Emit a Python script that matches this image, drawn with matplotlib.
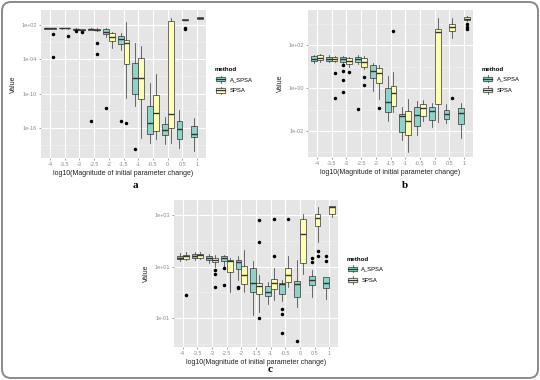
import numpy as np
import matplotlib
matplotlib.use("Agg")
import matplotlib.pyplot as plt
from matplotlib.patches import Rectangle, FancyBboxPatch, Patch
from matplotlib.lines import Line2D
from matplotlib.legend_handler import HandlerBase
from matplotlib.ticker import FixedLocator, NullFormatter
from matplotlib.transforms import IdentityTransform

plt.rcParams['font.family'] = ['Liberation Sans', 'DejaVu Sans']

# categories on the x axis
categories = ['-4', '-3.5', '-3', '-2.5', '-2', '-1.5', '-1', '-0.5', '0', '0.5', '1']
methods = ['A_SPSA', 'SPSA']

# box stats as log10 exponents: [whisker low, q1, median, q3, whisker high]
a_aspsa = [[1.30, 1.38, 1.45, 1.50, 1.55], [1.32, 1.40, 1.45, 1.50, 1.56], [1.10, 1.18, 1.25, 1.32, 1.40],
           [1.10, 1.18, 1.25, 1.32, 1.40], [-0.03, 0.38, 0.84, 1.30, 1.55], [-2.35, -1.36, -0.50, 0.09, 0.55],
           [-12.1, -10.06, -7.28, -4.66, -1.2], [-18.6, -17.1, -15.1, -12.2, -8.1], [-18.8, -17.3, -16.4, -15.3, -14.1],
           [-19.5, -18.0, -16.1, -14.8, -12.8], [-20.0, -17.6, -17.1, -15.7, -14.2]]
a_aspsa_out = [[], [], [0.95], [-14.8], [-12.5], [-14.7], [-19.6], [], [], [], []]
a_spsa = [[1.30, 1.38, 1.45, 1.50, 1.56], [1.32, 1.40, 1.45, 1.50, 1.56], [1.05, 1.12, 1.18, 1.28, 1.38],
          [0.90, 1.05, 1.15, 1.30, 1.45], [-2.05, -0.78, -0.14, 0.55, 0.84], [-10.8, -4.8, -1.2, -0.6, 2.57],
          [-17.7, -10.9, -7.28, -3.7, -1.65], [-18.0, -16.6, -13.3, -10.3, -6.5], [-18.6, -16.0, -13.5, 2.75, 3.17],
          [2.80, 2.88, 2.95, 3.05, 3.10], [3.05, 3.10, 3.20, 3.35, 3.38]]
a_spsa_out = [[0.43, -3.52], [0.09], [0.85], [-1.08, -3.05], [], [-15.2], [], [], [], [1.5, 1.35], []]

b_aspsa = [[1.18, 1.27, 1.36, 1.49, 1.55], [1.20, 1.27, 1.36, 1.45, 1.52], [1.15, 1.22, 1.34, 1.43, 1.50],
           [1.12, 1.22, 1.36, 1.45, 1.55], [-0.14, 0.48, 0.80, 1.07, 1.18], [-1.52, -1.10, -0.64, -0.01, 0.56],
           [-2.42, -2.03, -1.29, -1.21, -0.87], [-2.19, -1.75, -1.26, -0.90, -0.60], [-1.80, -1.49, -1.07, -0.90, -0.71],
           [-1.64, -1.44, -1.20, -1.02, -0.76], [-2.34, -1.67, -1.18, -0.95, -0.71]]
b_aspsa_out = [[], [], [1.07, 0.80, 0.37, -0.2], [-0.99], [], [], [], [], [], [], []]
b_spsa = [[1.22, 1.30, 1.41, 1.52, 1.58], [1.20, 1.27, 1.36, 1.45, 1.50], [0.99, 1.12, 1.26, 1.38, 1.45],
          [0.90, 0.99, 1.22, 1.38, 1.48], [-0.52, 0.25, 0.71, 0.92, 1.07], [-1.10, -0.84, -0.22, 0.09, 0.76],
          [-2.96, -2.19, -1.52, -1.05, -0.51], [-1.52, -1.30, -0.92, -0.76, -0.56], [-1.57, -0.74, 2.59, 2.74, 3.27],
          [2.31, 2.65, 2.85, 2.96, 3.24], [3.12, 3.16, 3.22, 3.29, 3.33]]
b_spsa_out = [[], [0.71, -0.48], [0.76], [0.51, 0.14], [-0.94], [2.66], [], [], [], [-0.45], [2.98, 2.85, 2.74]]

c_aspsa = [[1.20, 1.29, 1.35, 1.42, 1.51], [1.25, 1.33, 1.40, 1.48, 1.55], [1.15, 1.26, 1.33, 1.42, 1.50],
           [1.00, 1.23, 1.33, 1.39, 1.45], [0.48, 0.91, 1.16, 1.26, 1.39], [-0.88, 0.0, 0.35, 0.96, 1.20],
           [-0.47, -0.13, 0.03, 0.26, 0.39], [-0.34, -0.06, 0.31, 0.35, 0.48], [-0.56, -0.17, 0.31, 0.44, 1.25],
           [-0.17, 0.29, 0.46, 0.64, 0.87], [-0.26, 0.16, 0.35, 0.59, 0.61]]
c_aspsa_out = [[], [], [], [0.94, 0.29], [0.22, 0.16], [], [], [-0.66, -0.84, -1.56], [-1.89], [1.33, 1.17], [1.42, 1.22]]
c_spsa = [[1.25, 1.29, 1.39, 1.46, 1.55], [1.28, 1.35, 1.43, 1.50, 1.56], [1.00, 1.17, 1.26, 1.35, 1.45],
          [0.03, 0.78, 1.20, 1.26, 1.35], [0.03, 0.31, 0.68, 1.04, 1.65], [-0.75, -0.08, 0.26, 0.35, 0.68],
          [-0.30, 0.12, 0.35, 0.52, 0.94], [0.22, 0.39, 0.68, 0.96, 1.42], [0.72, 1.13, 2.26, 2.86, 3.04],
          [1.97, 2.56, 2.89, 3.04, 3.30], [2.91, 3.04, 3.30, 3.34, 3.36]]
c_spsa_out = [[-0.1], [], [0.87, 0.70, 0.22], [], [], [2.79, 1.94, -0.99], [2.85, 1.42], [2.85], [], [1.62, 1.39], []]

colors = {'A_SPSA': '#8DD3C7', 'SPSA': '#FFFFB3'}
EDGE = '#333333'


class BoxKey(HandlerBase):
    def create_artists(self, legend, orig_handle, xdescent, ydescent, width, height, fontsize, trans):
        x0, y0 = -xdescent, -ydescent
        bg = Rectangle((x0, y0), width, height, fc='#F2F2F2', ec='white', lw=0.6, transform=trans)
        box = Rectangle((x0 + width * 0.1, y0 + height * 0.25), width * 0.8, height * 0.5,
                        fc=orig_handle.get_facecolor(), ec=EDGE, lw=0.5, transform=trans)
        med = Line2D([x0 + width * 0.1, x0 + width * 0.9], [y0 + height * 0.5] * 2, color=EDGE, lw=0.9, transform=trans)
        w1 = Line2D([x0 + width / 2] * 2, [y0 + height * 0.08, y0 + height * 0.25], color=EDGE, lw=0.5, transform=trans)
        w2 = Line2D([x0 + width / 2] * 2, [y0 + height * 0.75, y0 + height * 0.92], color=EDGE, lw=0.5, transform=trans)
        return [bg, box, med, w1, w2]


def make_stats(rows, outs):
    stats = []
    for r, o in zip(rows, outs):
        v = [10.0 ** x for x in r]
        stats.append(dict(whislo=v[0], q1=v[1], med=v[2], q3=v[3], whishi=v[4],
                          fliers=[10.0 ** x for x in o]))
    return stats


def draw_panel(ax, A, Aout, S, Sout, ylim, majors, labels, minors):
    ax.set_facecolor('#E5E5E5')
    ax.set_yscale('log')
    x = np.arange(len(categories))
    for stats, pos, m in [(make_stats(A, Aout), x - 0.2, 'A_SPSA'), (make_stats(S, Sout), x + 0.2, 'SPSA')]:
        ax.bxp(stats, positions=pos, widths=0.4, patch_artist=True, showcaps=False,
               boxprops=dict(facecolor=colors[m], edgecolor=EDGE, linewidth=0.5),
               medianprops=dict(color=EDGE, linewidth=1.0),
               whiskerprops=dict(color=EDGE, linewidth=0.5),
               flierprops=dict(marker='o', markersize=1.5, markerfacecolor='black',
                               markeredgecolor='black', linestyle='none'),
               zorder=3)
    ax.set_xlim(-0.6, len(categories) - 0.4)
    ax.set_ylim(10.0 ** ylim[0], 10.0 ** ylim[1])
    ax.set_xticks(x)
    ax.set_xticklabels(categories)
    ax.yaxis.set_major_locator(FixedLocator([10.0 ** e for e in majors]))
    ax.set_yticklabels(labels)
    ax.yaxis.set_minor_locator(FixedLocator([10.0 ** e for e in minors]))
    ax.yaxis.set_minor_formatter(NullFormatter())
    ax.grid(True, which='major', color='white', linewidth=0.8, zorder=0)
    ax.grid(True, which='minor', axis='y', color='#F2F2F2', linewidth=0.4, zorder=0)
    ax.set_axisbelow(True)
    for s in ax.spines.values():
        s.set_visible(False)
    ax.tick_params(axis='both', which='major', length=1.6, width=0.5, color='#7F7F7F',
                   labelsize=4.0, labelcolor='#8C8C8C', pad=1.5)
    ax.tick_params(axis='y', which='minor', length=0)
    ax.set_xlabel('log10(Magnitude of initial parameter change)', fontsize=5.0, color='#222222', labelpad=2)
    ax.set_ylabel('Value', fontsize=5.0, color='#222222', labelpad=3)
    handles = [Patch(facecolor=colors[m]) for m in methods]
    ax.legend(handles, methods, title='method', loc='center left', bbox_to_anchor=(1.04, 0.52),
              frameon=False, fontsize=4.2, title_fontproperties={'weight': 'bold', 'size': 4.4},
              handler_map={Patch: BoxKey()}, handlelength=2.0, handleheight=1.9,
              labelspacing=0.45, handletextpad=0.5, borderaxespad=0, alignment='left')


fig = plt.figure(figsize=(5.4, 3.8), dpi=100)
W, H = 540.0, 380.0
ax_a = fig.add_axes([41 / W, 1 - 158 / H, 165 / W, 148 / H])
ax_b = fig.add_axes([308 / W, 1 - 157 / H, 165 / W, 147 / H])
ax_c = fig.add_axes([174 / W, 1 - 347 / H, 164 / W, 147 / H])

draw_panel(ax_a, a_aspsa, a_aspsa_out, a_spsa, a_spsa_out, (-21.25, 4.62),
           [2, -4, -10, -16], ['1e+02', '1e-04', '1e-10', '1e-16'], [5, -1, -7, -13, -19])
draw_panel(ax_b, b_aspsa, b_aspsa_out, b_spsa, b_spsa_out, (-3.21, 3.63),
           [2, 0, -2], ['1e+02', '1e+00', '1e-02'], [3, 1, -1, -3])
draw_panel(ax_c, c_aspsa, c_aspsa_out, c_spsa, c_spsa_out, (-2.12, 3.58),
           [3, 1, -1], ['1e+03', '1e+01', '1e-01'], [2, 0, -2])

# panel letters
for letter, lx, ly in [('a', 135, 186), ('b', 405, 185), ('c', 270, 370)]:
    fig.text(lx / W, 1 - ly / H, letter, ha='center', va='center',
             fontsize=8, fontweight='bold', family='Liberation Serif')

frame = FancyBboxPatch((2, 2), 536, 376, boxstyle='round,pad=0,rounding_size=9',
                       transform=IdentityTransform(), fill=False, edgecolor='#8A8A8A', linewidth=1.4)
fig.patches.append(frame)

fig.savefig('out.png', dpi=100, facecolor='white')
